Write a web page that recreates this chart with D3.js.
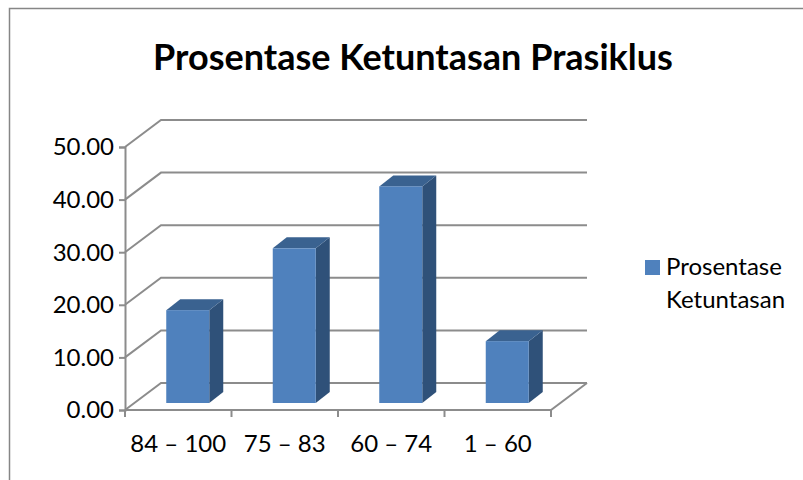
<!DOCTYPE html>
<html>
<head>
<meta charset="utf-8">
<script src="https://cdnjs.cloudflare.com/ajax/libs/d3/7.8.5/d3.min.js"></script>
<style>
body { margin: 0; background: #fff; }
text { font-family: Lato, sans-serif; fill: #000; }
</style>
</head>
<body>
<div id="chart"></div>
<script>
var categories = ["84 – 100", "75 – 83", "60 – 74", "1 – 60"];
var values = [17.65, 29.41, 41.18, 11.76];
var yTicks = [0, 10, 20, 30, 40, 50];
var seriesName = ["Prosentase", "Ketuntasan"];
var chartTitle = "Prosentase Ketuntasan Prasiklus";

var svg = d3.select("#chart").append("svg")
    .attr("width", 803)
    .attr("height", 480)
    .style("display", "block");

// outer frame, only top and left are visible in the crop
svg.append("path")
    .attr("d", "M9.5,480V8.5H803")
    .attr("fill", "none")
    .attr("stroke", "#868686")
    .attr("stroke-width", 1.5);

svg.append("text")
    .attr("x", 413)
    .attr("y", 70)
    .attr("text-anchor", "middle")
    .style("font-size", "36px")
    .style("font-weight", "bold")
    .text(chartTitle);

var x = d3.scaleBand().domain(categories).range([125, 551]);
var y = d3.scaleLinear().domain([0, 50]).range([410, 147]);

// depth of the 3d box
var dx = 36, dy = -27;
var grey = "#8c8c8c";

// walls and gridlines
var grid = svg.append("g")
    .attr("fill", "none")
    .attr("stroke", grey)
    .attr("stroke-width", 2);

yTicks.forEach(function (t) {
    grid.append("path")
        .attr("d", d3.line()([
            [x.range()[0], y(t)],
            [x.range()[0] + dx, y(t) + dy],
            [x.range()[1] + dx, y(t) + dy]
        ]));
});

// floor front edge
grid.append("path")
    .attr("d", d3.line()([
        [x.range()[0], y(0)],
        [x.range()[1], y(0)],
        [x.range()[1] + dx, y(0) + dy]
    ]));

// value axis
var axisY = svg.append("g")
    .attr("transform", "translate(" + x.range()[0] + ",0)")
    .call(d3.axisLeft(y).tickValues(yTicks).tickFormat(d3.format(".2f")).tickSize(6).tickPadding(5));
axisY.select(".domain").attr("stroke", grey).attr("stroke-width", 2);
axisY.selectAll("line").attr("stroke", grey).attr("stroke-width", 2);
axisY.selectAll("text").style("font-size", "24px").attr("dy", "0.33em");

// category axis
var axisX = svg.append("g")
    .attr("transform", "translate(0," + y(0) + ")")
    .call(d3.axisBottom(x).tickSize(0).tickPadding(25));
axisX.select(".domain").remove();
axisX.selectAll("text").style("font-size", "24px");
svg.append("g")
    .selectAll("line")
    .data(categories.concat([null]))
    .enter()
    .append("line")
    .attr("x1", function (d, i) { return x.range()[0] + i * x.step(); })
    .attr("x2", function (d, i) { return x.range()[0] + i * x.step(); })
    .attr("y1", y(0))
    .attr("y2", y(0) + 7)
    .attr("stroke", grey)
    .attr("stroke-width", 2);

// bars: front, side and top faces
var barW = 43, barDx = 14, barDy = -11, floorShift = -7;
var bars = svg.append("g")
    .selectAll("g")
    .data(values)
    .enter()
    .append("g");

function barLeft(d, i) { return x(categories[i]) + (x.step() - barW) / 2 - 0.5 + 10; }
function barTop(d) { return y(d) + floorShift; }
function barBottom() { return y(0) + floorShift; }

bars.append("path")
    .attr("fill", "#2f5179")
    .attr("d", function (d, i) {
        var r = barLeft(d, i) + barW;
        return d3.line()([[r, barTop(d)], [r + barDx, barTop(d) + barDy], [r + barDx, barBottom() + barDy], [r, barBottom()]]);
    });
bars.append("path")
    .attr("fill", "#3a6290")
    .attr("d", function (d, i) {
        var l = barLeft(d, i), r = l + barW;
        return d3.line()([[l, barTop(d)], [l + barDx, barTop(d) + barDy], [r + barDx, barTop(d) + barDy], [r, barTop(d)]]);
    });
bars.append("rect")
    .attr("fill", "#4f81bd")
    .attr("x", barLeft)
    .attr("y", barTop)
    .attr("width", barW)
    .attr("height", function (d) { return barBottom() - barTop(d); });

// legend
svg.append("rect")
    .attr("x", 645)
    .attr("y", 260)
    .attr("width", 15)
    .attr("height", 15)
    .attr("fill", "#4f81bd");
svg.append("g")
    .selectAll("text")
    .data(seriesName)
    .enter()
    .append("text")
    .attr("x", 666)
    .attr("y", function (d, i) { return 275 + i * 33; })
    .style("font-size", "24px")
    .text(function (d) { return d; });
</script>
</body>
</html>
